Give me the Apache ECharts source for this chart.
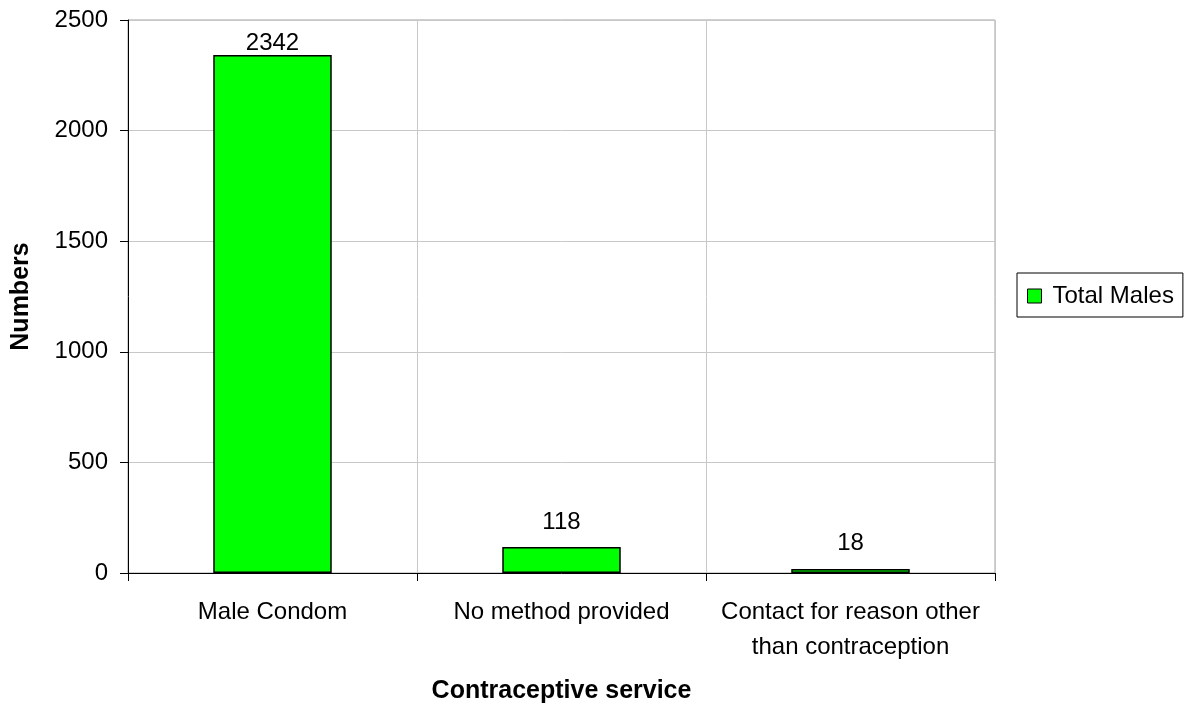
<!DOCTYPE html>
<html>
<head>
<meta charset="utf-8">
<script src="https://cdn.jsdelivr.net/npm/echarts@6/dist/echarts.min.js"></script>
<style>
  html, body { margin: 0; padding: 0; background: #fff; }
  #main { width: 1192px; height: 707px; }
</style>
</head>
<body>
<div id="main"></div>
<script>
  // data
  var categories = ['Male Condom', 'No method provided', 'Contact for reason other\nthan contraception'];
  var totalMales = [2342, 118, 18];
  var labelGap = [0, 13, 14];

  var font = 'Liberation Sans, Arial, sans-serif';

  var chart = echarts.init(document.getElementById('main'));

  var barData = totalMales.map(function (v, i) {
    return { value: v, label: { distance: labelGap[i] } };
  });

  chart.setOption({
    animation: false,
    textStyle: { fontFamily: font },
    grid: {
      left: 128, top: 20, right: 197, bottom: 134,
      outerBoundsMode: 'none',
      show: true, borderColor: '#a0a0a0', borderWidth: 1
    },
    legend: {
      data: ['Total Males'],
      orient: 'vertical',
      left: 1017,
      top: 273,
      padding: [11, 9, 9, 10],
      borderColor: '#000',
      borderWidth: 1,
      icon: 'rect',
      itemWidth: 14,
      itemHeight: 14,
      itemGap: 0,
      textStyle: { fontSize: 24, color: '#000', fontFamily: font, padding: [0, 0, 0, 6] },
      itemStyle: { borderColor: '#000', borderWidth: 1 }
    },
    xAxis: {
      type: 'category',
      data: categories,
      name: 'Contraceptive service',
      nameLocation: 'middle',
      nameGap: 106,
      nameTextStyle: { fontSize: 25, fontWeight: 'bold', color: '#000', fontFamily: font },
      axisLine: { lineStyle: { color: '#000' } },
      axisTick: { show: true, interval: 0, alignWithLabel: false, length: 8, lineStyle: { color: '#000' } },
      axisLabel: { interval: 0, hideOverlap: false, fontSize: 24, color: '#000', margin: 22, lineHeight: 35, fontFamily: font },
      splitLine: { show: true, interval: 0, lineStyle: { color: '#c8c8c8' } }
    },
    yAxis: {
      type: 'value',
      min: 0,
      max: 2500,
      interval: 500,
      name: 'Numbers',
      nameLocation: 'middle',
      nameGap: 94,
      nameTextStyle: { fontSize: 25, fontWeight: 'bold', color: '#000', fontFamily: font },
      axisLine: { show: true, lineStyle: { color: '#000' } },
      axisTick: { show: true, length: 8, lineStyle: { color: '#000' } },
      axisLabel: {
        fontSize: 24, color: '#000', margin: 20, fontFamily: font,
        formatter: function (v) { return String(v); }
      },
      splitLine: { show: true, lineStyle: { color: '#c8c8c8' } }
    },
    series: [{
      name: 'Total Males',
      type: 'bar',
      data: barData,
      barWidth: '41%',
      itemStyle: { color: '#00ff00', borderColor: '#000', borderWidth: 1.5 },
      label: { show: true, position: 'top', fontSize: 24, color: '#000', fontFamily: font }
    }]
  });
</script>
</body>
</html>
